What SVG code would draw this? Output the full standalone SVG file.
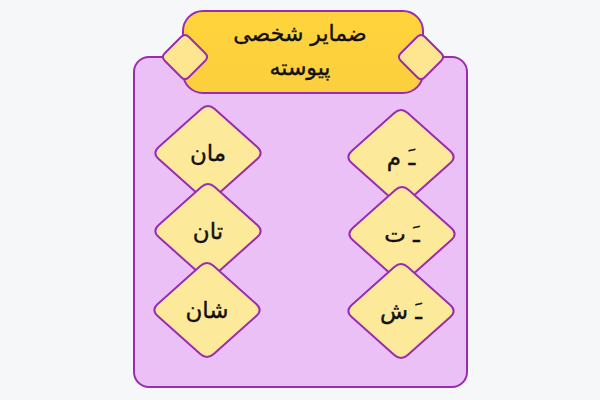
<svg xmlns="http://www.w3.org/2000/svg" xmlns:xlink="http://www.w3.org/1999/xlink" width="600" height="400" viewBox="0 0 600 400">
<style>
.box{fill:#ebc0f7;stroke:#9a2cb0;stroke-width:2}
.hdr{fill:url(#hg);stroke:#9a2cb0;stroke-width:2}
.hd{fill:#fde68f;stroke:#9a2cb0;stroke-width:2}
.nd{fill:#fde99a;stroke:#9a2cb0;stroke-width:2}
text{font-family:"DejaVu Sans","Noto Sans",sans-serif;fill:#111;text-anchor:middle;direction:rtl;stroke:#111;stroke-width:0.35}
.t{font-size:22px}
.n{font-size:23px}
</style>
<defs>
<linearGradient id="hg" x1="0" y1="0" x2="0" y2="1">
<stop offset="0" stop-color="#ffd43b"/>
<stop offset="1" stop-color="#fbcf3e"/>
</linearGradient>
<path id="dia" d="M6.72,-44 L49.28,-6 Q56,0 49.28,6 L6.72,44 Q0,50 -6.72,44 L-49.28,6 Q-56,0 -49.28,-6 L-6.72,-44 Q0,-50 6.72,-44 Z"/>
<path id="sdia" d="M3.75,-20.25 L20.25,-3.75 Q24,0 20.25,3.75 L3.75,20.25 Q0,24 -3.75,20.25 L-20.25,3.75 Q-24,0 -20.25,-3.75 L-3.75,-20.25 Q0,-24 3.75,-20.25 Z"/>
</defs>
<rect width="600" height="400" fill="#f6f7f9"/>
<g id="container">
<rect class="box" x="134" y="57" width="333" height="330" rx="15"/>
</g>
<g id="header">
<rect class="hdr" x="183" y="11" width="240" height="82" rx="20"/>
<use href="#sdia" class="hd" x="185" y="57"/>
<use href="#sdia" class="hd" x="421" y="57"/>
<text class="t" x="300" y="41">ضمایر شخصی</text>
<text class="t" x="300" y="75">پیوسته</text>
</g>
<g id="connectors"></g>
<g id="node-man">
<use href="#dia" class="nd" x="208" y="153"/>
<text class="n" x="208" y="161">مان</text>
</g>
<g id="node-tan">
<use href="#dia" class="nd" x="208" y="231"/>
<text class="n" x="208" y="239">تان</text>
</g>
<g id="node-shan">
<use href="#dia" class="nd" x="207" y="310"/>
<text class="n" x="207" y="318">شان</text>
</g>
<g id="node-am">
<use href="#dia" class="nd" x="401" y="157"/>
<text class="n" x="401" y="165">ـَ م</text>
</g>
<g id="node-at">
<use href="#dia" class="nd" x="402" y="234"/>
<text class="n" x="402" y="242">ـَ ت</text>
</g>
<g id="node-ash">
<use href="#dia" class="nd" x="401" y="311"/>
<text class="n" x="401" y="319">ـَ ش</text>
</g>
</svg>
